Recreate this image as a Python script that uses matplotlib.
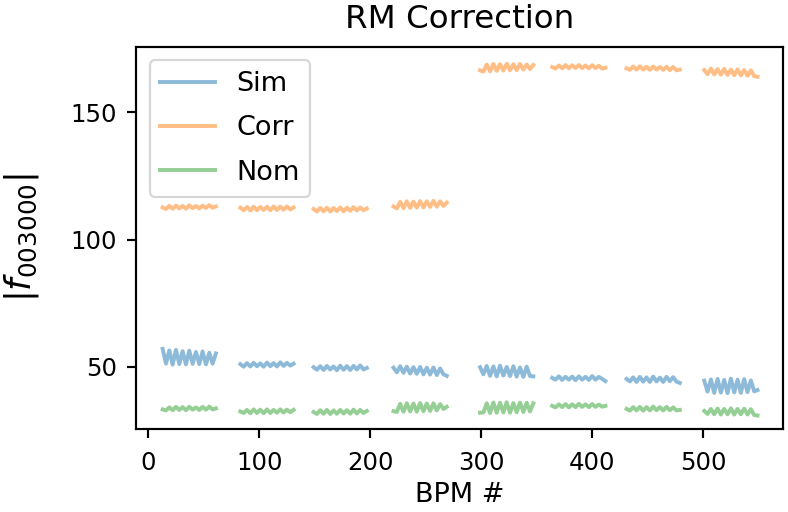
import numpy as np
import matplotlib
matplotlib.use("Agg")
import matplotlib.pyplot as plt

# BPM index where each measured block starts; samples every STEP BPMs
block_starts = [13, 83, 149, 221, 299, 364, 431, 501]
STEP = 3

sim = [
    [57.0, 51.2, 56.4, 50.8, 56.6, 51.0, 56.1, 50.9, 56.3, 51.1, 55.8, 51.0, 56.0, 50.9, 55.5, 51.2, 55.2],
    [51.0, 50.0, 51.4, 50.1, 51.5, 50.2, 51.3, 50.0, 51.6, 50.2, 51.4, 50.1, 51.7, 50.3, 51.5, 50.4, 51.2],
    [49.8, 48.8, 50.2, 48.7, 50.3, 48.9, 50.1, 48.6, 50.4, 48.8, 50.2, 48.7, 50.3, 48.9, 50.5, 48.9, 49.5],
    [49.6, 47.8, 50.2, 47.6, 50.0, 47.3, 49.8, 47.2, 49.9, 47.0, 49.6, 46.9, 49.7, 46.7, 49.3, 47.0, 46.4],
    [49.8, 47.0, 50.3, 46.4, 50.1, 46.2, 50.4, 46.5, 49.9, 46.3, 50.2, 46.1, 49.7, 46.0, 50.0, 46.3, 46.2],
    [45.6, 44.9, 46.2, 44.8, 46.0, 44.9, 46.1, 44.7, 46.2, 44.9, 46.0, 44.8, 46.3, 44.9, 46.0, 45.2, 44.3],
    [45.2, 44.2, 45.8, 44.0, 46.0, 44.1, 45.8, 44.0, 46.1, 44.2, 45.7, 44.0, 46.0, 44.3, 45.9, 44.1, 43.6],
    [44.5, 40.2, 45.0, 39.7, 45.2, 39.8, 44.8, 39.6, 45.3, 39.9, 44.9, 39.7, 45.1, 40.0, 44.6, 40.3, 40.8],
]

corr = [
    [112.6, 112.0, 113.2, 112.1, 113.3, 112.2, 113.2, 112.1, 113.4, 112.3, 113.2, 112.2, 113.3, 112.4, 113.5, 112.5, 113.0],
    [112.5, 111.5, 112.8, 111.4, 112.9, 111.5, 112.8, 111.6, 112.9, 111.5, 113.0, 111.6, 112.9, 111.7, 113.0, 111.8, 112.6],
    [112.0, 111.0, 112.4, 111.1, 112.5, 111.0, 112.4, 111.2, 112.6, 111.1, 112.5, 111.3, 112.7, 111.4, 112.6, 111.5, 112.2],
    [113.0, 112.2, 114.8, 112.3, 115.0, 112.4, 114.9, 112.5, 115.1, 112.6, 115.0, 112.8, 115.2, 112.9, 115.0, 113.2, 114.5],
    [166.5, 166.0, 168.8, 166.1, 169.0, 166.3, 168.9, 166.4, 169.1, 166.5, 168.9, 166.6, 169.0, 166.8, 168.8, 167.0, 168.6],
    [167.8, 167.2, 168.4, 167.3, 168.6, 167.3, 168.5, 167.4, 168.6, 167.4, 168.4, 167.3, 168.5, 167.4, 168.3, 167.2, 167.5],
    [167.3, 166.7, 168.0, 166.8, 168.1, 166.8, 167.9, 166.7, 168.0, 166.8, 167.8, 166.7, 167.9, 166.6, 167.8, 166.5, 166.8],
    [166.6, 165.0, 167.2, 164.9, 167.0, 164.8, 167.1, 164.7, 166.8, 164.6, 166.9, 164.5, 166.6, 164.4, 166.5, 164.2, 164.0],
]

nom = [
    [33.2, 32.8, 34.0, 32.9, 34.2, 33.0, 34.1, 32.9, 34.2, 33.1, 34.0, 33.0, 34.2, 33.1, 34.3, 33.2, 33.6],
    [32.4, 31.8, 33.0, 31.7, 33.2, 31.8, 33.1, 31.7, 33.2, 31.8, 33.0, 31.9, 33.2, 32.0, 33.1, 32.1, 33.0],
    [32.2, 31.4, 32.9, 31.5, 33.0, 31.4, 32.8, 31.5, 33.0, 31.6, 32.9, 31.5, 33.1, 31.6, 33.0, 31.8, 32.6],
    [32.5, 32.2, 35.4, 32.3, 35.6, 32.4, 35.5, 32.3, 35.7, 32.5, 35.5, 32.6, 35.6, 32.8, 35.3, 33.4, 34.2],
    [31.9, 32.0, 35.6, 31.8, 35.9, 31.9, 35.8, 32.0, 36.0, 31.9, 35.7, 32.1, 35.9, 32.2, 35.8, 32.4, 35.6],
    [34.6, 34.0, 35.2, 34.1, 35.3, 34.0, 35.2, 34.1, 35.4, 34.2, 35.2, 34.1, 35.3, 34.2, 35.1, 34.3, 34.6],
    [33.4, 32.7, 34.1, 32.8, 34.2, 32.7, 34.1, 32.8, 34.3, 32.9, 34.1, 32.8, 34.2, 32.9, 34.0, 32.8, 33.0],
    [32.6, 31.4, 33.4, 31.3, 33.5, 31.2, 33.4, 31.3, 33.6, 31.2, 33.4, 31.3, 33.5, 31.2, 33.3, 31.0, 30.8],
]

series = [("Sim", sim, "tab:blue"), ("Corr", corr, "tab:orange"), ("Nom", nom, "tab:green")]


def join_blocks(blocks):
    """Concatenate blocks with NaN breaks so each block is drawn separately."""
    xs, ys = [], []
    for start, vals in zip(block_starts, blocks):
        xs.extend(start + STEP * np.arange(len(vals)))
        ys.extend(vals)
        xs.append(np.nan)
        ys.append(np.nan)
    return np.array(xs, dtype=float), np.array(ys, dtype=float)


s = 1.95  # overall scale of fonts and strokes
plt.rcParams.update({
    "font.family": "DejaVu Sans",
    "axes.linewidth": 0.8 * s,
    "xtick.major.width": 0.8 * s,
    "ytick.major.width": 0.8 * s,
    "xtick.major.size": 3.5 * s,
    "ytick.major.size": 3.5 * s,
    "xtick.major.pad": 4.5 * s,
    "ytick.major.pad": 3.5 * s,
    "xtick.labelsize": 9 * s,
    "ytick.labelsize": 9 * s,
    "legend.fontsize": 10 * s,
})

fig = plt.figure(figsize=(7.88, 5.12), dpi=100)
ax = fig.add_axes([0.1726, 0.1621, 0.8211, 0.7467])

for label, blocks, color in series:
    x, y = join_blocks(blocks)
    ax.plot(x, y, color=color, alpha=0.5, lw=1.45 * s, label=label)

ax.set_xlim(-11, 572)
ax.set_ylim(25.5, 175.8)
ax.set_xticks([0, 100, 200, 300, 400, 500])
ax.set_yticks([50, 100, 150])

ax.set_title("RM Correction", fontsize=12 * s, pad=7 * s)
ax.set_xlabel("BPM #", fontsize=10 * s, labelpad=2.8 * s)
ax.set_ylabel(r"$|f_{003000}|$", fontsize=13 * s, labelpad=11 * s)

leg = ax.legend(loc="upper left", labelspacing=0.68)
leg.get_frame().set_linewidth(0.8 * s)

fig.savefig("out.png", dpi=100)
